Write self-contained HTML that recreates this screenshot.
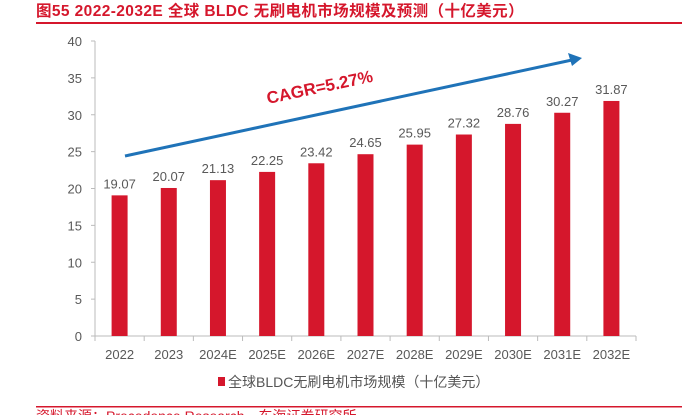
<!DOCTYPE html>
<html><head><meta charset="utf-8"><style>
body{margin:0;width:682px;height:415px;overflow:hidden;background:#fff;font-family:"Liberation Sans","Noto Sans CJK SC",sans-serif;}
</style></head><body>
<svg width="682" height="415" xmlns="http://www.w3.org/2000/svg">
<text x="36" y="16" font-size="15.5" letter-spacing="0.4" font-weight="bold" fill="#d5172c" font-family="Liberation Sans, Noto Sans CJK SC, sans-serif">图55  2022-2032E 全球 BLDC 无刷电机市场规模及预测（十亿美元）</text>
<rect x="36" y="22" width="646" height="2" fill="#d5172c"/>
<g id="axes"></g>
<g id="bars"></g>
<line x1="125" y1="156" x2="572" y2="60" stroke="#1f73b8" stroke-width="3"/>
<polygon points="582,58 568,53 572,66" fill="#1f73b8"/>
<text x="268" y="104" font-size="17" font-weight="bold" fill="#d5172c" transform="rotate(-12 268 104)">CAGR=5.27%</text>
<rect x="218" y="377" width="7" height="9" fill="#d5172c"/>
<text x="228" y="387" font-size="14" fill="#555" font-family="Liberation Sans, Noto Sans CJK SC, sans-serif">全球BLDC无刷电机市场规模（十亿美元）</text>
<rect x="36" y="406" width="646" height="1.5" fill="#d5172c"/>
<text x="36" y="421" font-size="14" fill="#d5172c" font-family="Liberation Sans, Noto Sans CJK SC, sans-serif">资料来源：Precedence Research，东海证券研究所</text>
</svg>
<script>
const categories=["2022","2023","2024E","2025E","2026E","2027E","2028E","2029E","2030E","2031E","2032E"];
const values=[19.07,20.07,21.13,22.25,23.42,24.65,25.95,27.32,28.76,30.27,31.87];
const yTicks=[0,5,10,15,20,25,30,35,40];
const NS="http://www.w3.org/2000/svg";
const x0=95,x1=636,y0=336,yTop=41,yMax=40;
const bw=(x1-x0)/categories.length;
const ys=v=>y0-(v/yMax)*(y0-yTop);
const xc=i=>x0+bw*(i+0.5);
function mk(t,a,p,txt){const e=document.createElementNS(NS,t);for(const k in a)e.setAttribute(k,a[k]);if(txt!=null)e.textContent=txt;p.appendChild(e);return e;}
const ax=document.getElementById('axes'),bg=document.getElementById('bars');
let l=mk('line',{x1:x0,y1:yTop,x2:x0,y2:y0,stroke:'#bbb'},ax);


l=mk('line',{x1:x0,y1:y0,x2:x1,y2:y0,stroke:'#bbb'},ax);


yTicks.forEach(v=>{
 const t=mk('line',{x1:x0-4,y1:ys(v),x2:x0,y2:ys(v),stroke:'#bbb'},ax);
 
 
 const tx=mk('text',{x:x0-13,y:ys(v)+5,'font-size':13,fill:'#595959','text-anchor':'end'},ax,String(v));
 
 
});
for(let i=0;i<=categories.length;i++){
 const t=mk('line',{x1:x0+bw*i,y1:y0,x2:x0+bw*i,y2:y0+5,stroke:'#bbb'},ax);
 
 
}
categories.forEach((c,i)=>{
 const r=mk('rect',{x:xc(i)-8,y:ys(values[i]),width:16,height:y0-ys(values[i]),fill:'#d5172c'},bg);
 
 
 const lb=mk('text',{x:xc(i),y:ys(values[i])-7,'font-size':13,fill:'#595959','text-anchor':'middle'},bg,values[i].toFixed(2));
 
 
 const xl=mk('text',{x:xc(i),y:359,'font-size':13,fill:'#595959','text-anchor':'middle'},ax,c);
 
 
});
</script>
</body></html>
